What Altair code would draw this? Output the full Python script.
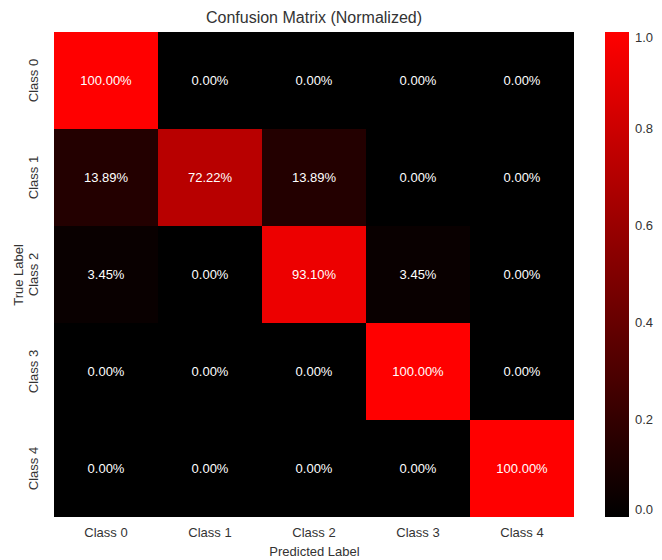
import altair as alt
import pandas as pd

classes = ["Class 0", "Class 1", "Class 2", "Class 3", "Class 4"]
matrix = [
    [1.0, 0.0, 0.0, 0.0, 0.0],
    [0.1389, 0.7222, 0.1389, 0.0, 0.0],
    [0.0345, 0.0, 0.9310, 0.0345, 0.0],
    [0.0, 0.0, 0.0, 1.0, 0.0],
    [0.0, 0.0, 0.0, 0.0, 1.0],
]
legend_ticks = [0.0, 0.2, 0.4, 0.6, 0.8, 1.0]

rows = []
for i, t in enumerate(classes):
    for j, p in enumerate(classes):
        rows.append({"true": t, "pred": p, "value": matrix[i][j]})
df = pd.DataFrame(rows)

font = "Liberation Sans"

base = alt.Chart(df).encode(
    x=alt.X("pred:N", sort=classes, title="Predicted Label",
            axis=alt.Axis(labelAngle=0, ticks=False, domain=False, grid=False, labelPadding=9,
                          labelFontSize=13, titleFontSize=13, labelColor="#333333",
                          titleColor="#333333", titleFontWeight="normal", titlePadding=6,
                          labelFont=font, titleFont=font)),
    y=alt.Y("true:N", sort=classes, title="True Label",
            axis=alt.Axis(labelAngle=-90, ticks=False, domain=False, grid=False, labelPadding=14,
                          labelAlign="center", labelBaseline="bottom",
                          labelFontSize=13, titleFontSize=13, labelColor="#333333",
                          titleColor="#333333", titleFontWeight="normal", titlePadding=2,
                          labelFont=font, titleFont=font)),
)

heat = base.mark_rect().encode(
    color=alt.Color("value:Q",
                    scale=alt.Scale(domain=[0, 1], range=["#000000", "#ff0000"], interpolate="rgb"),
                    legend=alt.Legend(type="gradient", title=None, gradientLength=485,
                                      gradientThickness=24, direction="vertical",
                                      values=legend_ticks, format=".1f", labelOverlap=False,
                                      labelFontSize=13, labelColor="#333333", labelFont=font,
                                      offset=31, gradientStrokeWidth=0, labelOffset=6)),
)

text = base.mark_text(color="white", fontSize=13, font=font).encode(
    text=alt.Text("value:Q", format=".2%")
)

chart = (heat + text).properties(
    width=520, height=485,
    title=alt.TitleParams("Confusion Matrix (Normalized)", fontSize=16, font=font,
                          fontWeight="normal", color="#333333", offset=6),
    autosize=alt.AutoSizeParams(type="none"),
    padding={"left": 46, "top": 24, "right": 80, "bottom": 44},
).configure_view(stroke=None)

chart.save("out.html", embed_options={"renderer": "svg", "actions": False})
